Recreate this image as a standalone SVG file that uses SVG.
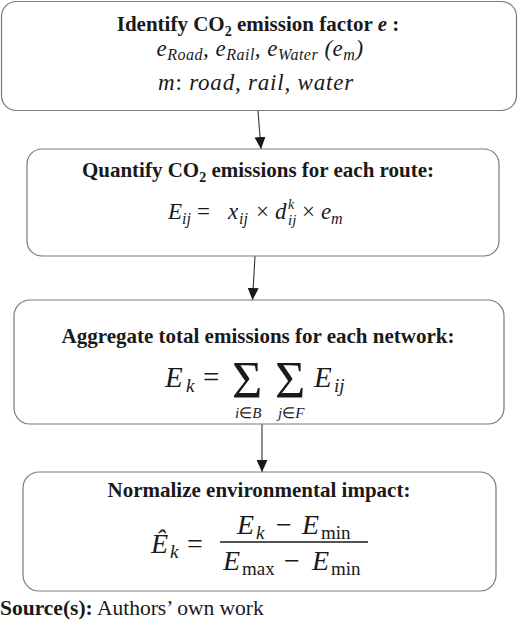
<svg xmlns="http://www.w3.org/2000/svg" width="520" height="622" viewBox="0 0 520 622">
<style>
.box{fill:#fff;stroke:#7a7a7a;stroke-width:1.2}
.conn{stroke:#333;stroke-width:1.1;fill:none}
.t{font-family:"Liberation Serif","Times New Roman",serif;font-weight:bold;font-size:21px;fill:#1a1a1a;text-anchor:middle}
.m{font-family:"Liberation Serif","Times New Roman",serif;font-style:italic;fill:#1a1a1a}
.up{font-style:normal}
.src{font-family:"Liberation Serif","Times New Roman",serif;font-size:21.5px;fill:#1a1a1a}
</style>
<defs>
<marker id="ah" markerUnits="userSpaceOnUse" markerWidth="12" markerHeight="11" refX="12" refY="5.5" orient="auto">
<path d="M0,0 L12,5.5 L0,11 z" fill="#1a1a1a"/>
</marker>
</defs>
<g id="connectors">
<line class="conn" x1="258" y1="111" x2="261" y2="149" marker-end="url(#ah)"/>
<line class="conn" x1="255" y1="256" x2="252.5" y2="300" marker-end="url(#ah)"/>
<line class="conn" x1="262" y1="424" x2="262" y2="472" marker-end="url(#ah)"/>
</g>
<g id="node1">
<rect class="box" x="1.5" y="1.5" width="515" height="109" rx="15"/>
<text class="t" x="258" y="31">Identify CO<tspan style="font-size:14px" dy="5">2</tspan><tspan dy="-5"> emission factor </tspan><tspan style="font-style:italic">e</tspan> :</text>
<text class="m" x="260" y="56" text-anchor="middle" style="font-size:23px;letter-spacing:0.5px">e<tspan style="font-size:16px" dy="4">Road</tspan><tspan dy="-4">, e</tspan><tspan style="font-size:16px" dy="4">Rail</tspan><tspan dy="-4">, e</tspan><tspan style="font-size:16px" dy="4">Water</tspan><tspan dy="-4"> (e</tspan><tspan style="font-size:16px" dy="4">m</tspan><tspan dy="-4">)</tspan></text>
<text class="m" x="256" y="90" text-anchor="middle" style="font-size:23px;letter-spacing:0.8px">m<tspan class="up">:</tspan> road, rail, water</text>
</g>
<g id="node2">
<rect class="box" x="27" y="149" width="472" height="107" rx="15"/>
<text class="t" x="258" y="177">Quantify  CO<tspan style="font-size:14px" dy="5">2</tspan><tspan dy="-5"> emissions for each route:</tspan></text>
<g class="m" style="font-size:23px">
<text x="168" y="219">E</text>
<text x="182" y="224" style="font-size:16px">ij</text>
<text class="up" x="197" y="219">=</text>
<text x="228" y="219">x</text>
<text x="239" y="224" style="font-size:16px">ij</text>
<text class="up" x="256" y="219">×</text>
<text x="275" y="219">d</text>
<text x="288" y="209" style="font-size:14px">k</text>
<text x="288" y="225" style="font-size:15px">ij</text>
<text class="up" x="302" y="219">×</text>
<text x="321" y="219">e</text>
<text x="331" y="224" style="font-size:16px">m</text>
</g>
</g>
<g id="node3">
<rect class="box" x="14" y="300" width="490" height="124" rx="16"/>
<text class="t" x="258" y="343">Aggregate total emissions for each network:</text>
<g class="m" style="font-size:29px">
<text x="165" y="387">E</text>
<text x="186" y="392" style="font-size:19px">k</text>
<text class="up" x="203" y="387">=</text>
<text class="up" x="232" y="398" style="font-size:52px">Σ</text>
<text class="up" x="275" y="398" style="font-size:52px">Σ</text>
<text x="235" y="418" style="font-size:15px">i<tspan class="up">∈</tspan>B</text>
<text x="278" y="418" style="font-size:15px">j<tspan class="up">∈</tspan>F</text>
<text x="314" y="387">E</text>
<text x="334" y="392" style="font-size:19px">ij</text>
</g>
</g>
<g id="node4">
<rect class="box" x="23" y="472" width="473" height="119" rx="16"/>
<text class="t" x="259" y="497">Normalize environmental impact:</text>
<g class="m" style="font-size:28px">
<text x="151" y="553">Ê</text>
<text x="170" y="558" style="font-size:19px">k</text>
<text class="up" x="187" y="553">=</text>
<line x1="220" y1="542" x2="368" y2="542" stroke="#1a1a1a" stroke-width="1.3"/>
<text x="237" y="534">E</text>
<text x="256" y="539" style="font-size:19px">k</text>
<text class="up" x="276" y="534">−</text>
<text x="302" y="534">E</text>
<text class="up" x="321" y="539" style="font-size:19px">min</text>
<text x="223" y="570">E</text>
<text class="up" x="242" y="575" style="font-size:19px">max</text>
<text class="up" x="284" y="570">−</text>
<text x="312" y="570">E</text>
<text class="up" x="331" y="575" style="font-size:19px">min</text>
</g>
</g>
<text class="src" x="0" y="615"><tspan style="font-weight:bold">Source(s):</tspan> Authors’ own work</text>
</svg>
